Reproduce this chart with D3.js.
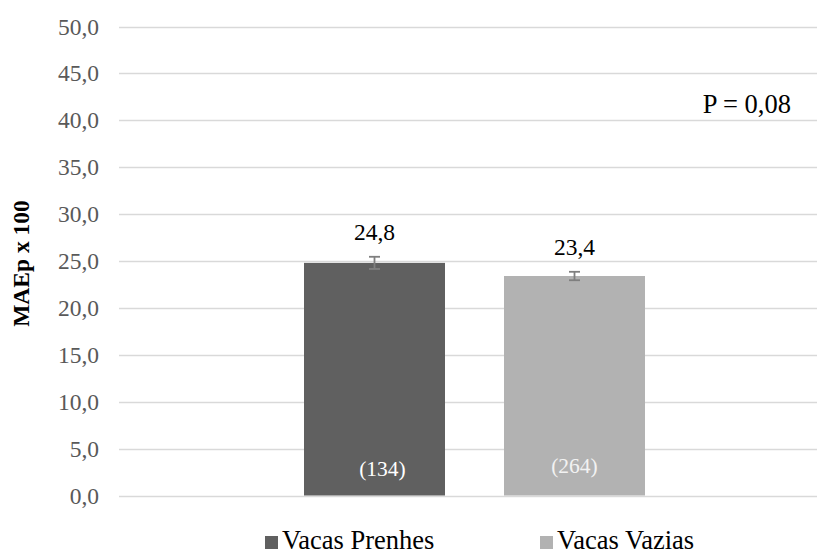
<!DOCTYPE html>
<html>
<head>
<meta charset="utf-8">
<script src="https://cdn.jsdelivr.net/npm/d3@7"></script>
<style>
  html, body { margin: 0; padding: 0; background: #fff; }
  svg { display: block; }
</style>
</head>
<body>
<svg id="chart" width="817" height="555"></svg>
<script>
const categories = ["Vacas Prenhes", "Vacas Vazias"];
const values = [24.8, 23.4];
const errors = [0.65, 0.45];
const counts = ["(134)", "(264)"];
const valueLabels = ["24,8", "23,4"];
const yTicks = [0, 5, 10, 15, 20, 25, 30, 35, 40, 45, 50];
const colors = ["#606060", "#b2b2b2"];
const countColors = ["#ffffff", "#f2f2f2"];
const yTitle = "MAEp x 100";
const pText = "P = 0,08";

const FONT = "'Liberation Serif'";
const svg = d3.select("#chart");

const y = d3.scaleLinear().domain([0, 50]).range([495.5, 26.5]);
const x = d3.scaleBand().domain(categories).range([119, 830])
  .paddingInner(0.295).paddingOuter(0.925);

// gridlines
svg.append("g").selectAll("line").data(yTicks).join("line")
  .attr("x1", 119).attr("x2", 830)
  .attr("y1", d => Math.round(y(d)) + 0.5).attr("y2", d => Math.round(y(d)) + 0.5)
  .attr("stroke", "#d9d9d9").attr("stroke-width", 1.5);

// y tick labels
const fmt = d => d3.format(".1f")(d).replace(".", ",");
svg.append("g").selectAll("text").data(yTicks).join("text")
  .attr("x", 99).attr("y", d => y(d) + 8)
  .attr("text-anchor", "end")
  .style("font-family", FONT).style("font-size", "23.5px")
  .attr("fill", "#595959")
  .text(fmt);

// y axis title
svg.append("text")
  .attr("transform", "translate(29,263.5) rotate(-90)")
  .attr("text-anchor", "middle")
  .style("font-family", FONT).style("font-size", "23.5px").style("font-weight", "bold")
  .attr("fill", "#000")
  .text(yTitle);

// bars
svg.append("g").selectAll("rect").data(values).join("rect")
  .attr("x", (d, i) => x(categories[i]))
  .attr("width", x.bandwidth())
  .attr("y", d => y(d))
  .attr("height", d => y(0) - y(d))
  .attr("fill", (d, i) => colors[i]);

// error bars
const eg = svg.append("g").attr("stroke", "#7f7f7f").attr("stroke-width", 1.8);
values.forEach((v, i) => {
  const cx = x(categories[i]) + x.bandwidth() / 2;
  const lo = y(v - errors[i]), hi = y(v + errors[i]);
  eg.append("line").attr("x1", cx).attr("x2", cx).attr("y1", lo).attr("y2", hi);
  eg.append("line").attr("x1", cx - 5.5).attr("x2", cx + 5.5).attr("y1", lo).attr("y2", lo);
  eg.append("line").attr("x1", cx - 5.5).attr("x2", cx + 5.5).attr("y1", hi).attr("y2", hi);
});

// value labels
svg.append("g").selectAll("text").data(values).join("text")
  .attr("x", (d, i) => x(categories[i]) + x.bandwidth() / 2)
  .attr("y", (d, i) => y(d + errors[i]) - 17)
  .attr("text-anchor", "middle")
  .style("font-family", FONT).style("font-size", "23.5px")
  .attr("fill", "#000")
  .text((d, i) => valueLabels[i]);

// counts inside bars
svg.append("g").selectAll("text").data(counts).join("text")
  .attr("x", (d, i) => x(categories[i]) + x.bandwidth() / 2 + (i === 0 ? 8 : 0))
  .attr("y", (d, i) => i === 0 ? 476 : 473)
  .attr("text-anchor", "middle")
  .style("font-family", FONT).style("font-size", "21.5px")
  .attr("fill", (d, i) => countColors[i])
  .text(d => d);

// P value
svg.append("text")
  .attr("x", 791).attr("y", 113)
  .attr("text-anchor", "end")
  .style("font-family", FONT).style("font-size", "26.5px")
  .attr("fill", "#000")
  .text(pText);

// legend
const legendX = [265, 540];
const lg = svg.append("g");
categories.forEach((c, i) => {
  lg.append("rect").attr("x", legendX[i]).attr("y", 536).attr("width", 13).attr("height", 13)
    .attr("fill", colors[i]);
  lg.append("text").attr("x", legendX[i] + 17).attr("y", 549)
    .style("font-family", FONT).style("font-size", "26.5px")
    .attr("fill", "#000").text(c);
});
</script>
</body>
</html>
